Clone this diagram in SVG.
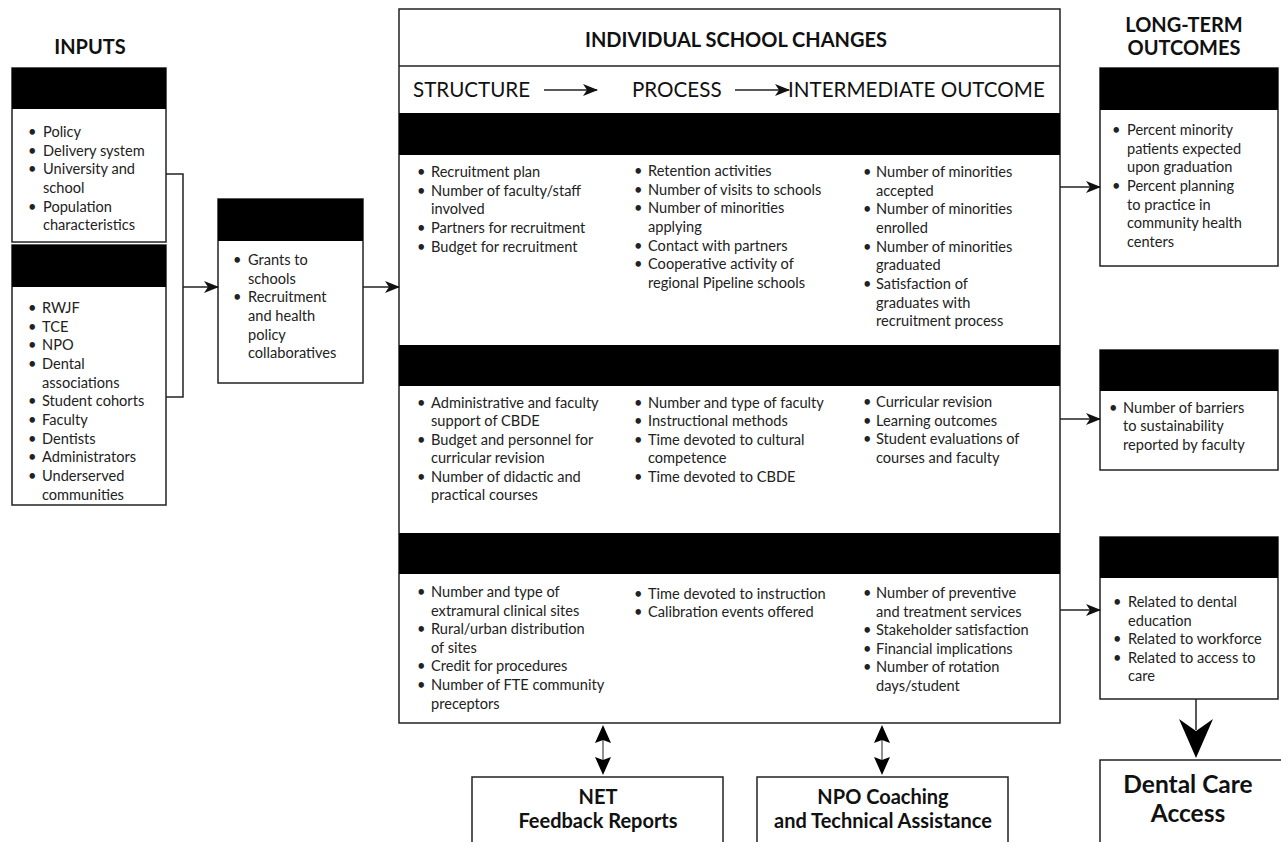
<svg xmlns="http://www.w3.org/2000/svg" width="1281" height="842" viewBox="0 0 1281 842">
<defs>
<style>
.box{fill:#fff;stroke:#222;stroke-width:1.5}
.bar{fill:#000}
.t{font-family:Lato,"Open Sans","Liberation Sans",sans-serif;font-size:14.6px;fill:#222}
.h{font-family:Lato,"Open Sans","Liberation Sans",sans-serif;font-size:20px;font-weight:bold;fill:#111}
.row{font-family:Lato,"Open Sans","Liberation Sans",sans-serif;font-size:20.6px;fill:#111}
.b{font-family:Lato,"Open Sans","Liberation Sans",sans-serif;font-size:20px;font-weight:bold;fill:#111;text-anchor:middle}
.big{font-family:Lato,"Open Sans","Liberation Sans",sans-serif;font-size:24.5px;font-weight:bold;fill:#111;text-anchor:middle}
.ln{fill:none;stroke:#222;stroke-width:1.5}
</style>
<marker id="ah" markerWidth="15" markerHeight="12" refX="14" refY="6" orient="auto" markerUnits="userSpaceOnUse">
<path d="M0,0 L15,6 L0,12 L4,6 Z" fill="#111"/>
</marker>
</defs>
<rect width="1281" height="842" fill="#fff"/>

<!-- Headings -->
<text class="h" x="90" y="54" text-anchor="middle">INPUTS</text>
<text class="h" x="1184" y="32" text-anchor="middle">LONG-TERM</text>
<text class="h" x="1184" y="55" text-anchor="middle">OUTCOMES</text>

<!-- Input box 1 -->
<g id="input-context">
<rect class="box" x="12" y="68" width="154" height="174"/>
<rect class="bar" x="12" y="68" width="154" height="41"/>
<g class="t">
<text x="28" y="137">•</text><text x="43" y="137">Policy</text>
<text x="28" y="156">•</text><text x="43" y="156">Delivery system</text>
<text x="28" y="174">•</text><text x="43" y="174">University and</text>
<text x="43" y="193">school</text>
<text x="28" y="212">•</text><text x="43" y="212">Population</text>
<text x="43" y="230">characteristics</text>
</g>
</g>

<!-- Input box 2 -->
<g id="input-stakeholders">
<rect class="box" x="12" y="245" width="154" height="260"/>
<rect class="bar" x="12" y="245" width="154" height="42"/>
<g class="t">
<text x="28" y="313">•</text><text x="42" y="313">RWJF</text>
<text x="28" y="332">•</text><text x="42" y="332">TCE</text>
<text x="28" y="350">•</text><text x="42" y="350">NPO</text>
<text x="28" y="369">•</text><text x="42" y="369">Dental</text>
<text x="42" y="388">associations</text>
<text x="28" y="406">•</text><text x="42" y="406">Student cohorts</text>
<text x="28" y="425">•</text><text x="42" y="425">Faculty</text>
<text x="28" y="444">•</text><text x="42" y="444">Dentists</text>
<text x="28" y="462">•</text><text x="42" y="462">Administrators</text>
<text x="28" y="481">•</text><text x="42" y="481">Underserved</text>
<text x="42" y="500">communities</text>
</g>
</g>

<!-- Program box -->
<g id="program">
<rect class="box" x="218" y="199" width="145" height="184"/>
<rect class="bar" x="218" y="199" width="145" height="42"/>
<g class="t">
<text x="233" y="265">•</text><text x="248" y="265">Grants to</text>
<text x="248" y="284">schools</text>
<text x="233" y="302">•</text><text x="248" y="302">Recruitment</text>
<text x="248" y="321">and health</text>
<text x="248" y="340">policy</text>
<text x="248" y="358">collaboratives</text>
</g>
</g>

<!-- Main box -->
<g id="individual-school-changes">
<rect class="box" x="399" y="9" width="661" height="714"/>
<line class="ln" x1="399" y1="66" x2="1060" y2="66"/>
<text class="h" x="736" y="47" text-anchor="middle">INDIVIDUAL SCHOOL CHANGES</text>
<text class="row" x="413" y="97">STRUCTURE</text>
<text class="row" x="632" y="97">PROCESS</text>
<text class="row" x="788" y="97">INTERMEDIATE OUTCOME</text>
<line class="ln" x1="544" y1="90" x2="597" y2="90" marker-end="url(#ah)"/>
<line class="ln" x1="735" y1="90" x2="789" y2="90" marker-end="url(#ah)"/>
<rect class="bar" x="399" y="113" width="661" height="42"/>
<rect class="bar" x="399" y="345" width="661" height="41"/>
<rect class="bar" x="399" y="533" width="661" height="41"/>
<g class="t">
<!-- row 1 -->
<text x="417" y="177">•</text><text x="431" y="177">Recruitment plan</text>
<text x="417" y="196">•</text><text x="431" y="196">Number of faculty/staff</text>
<text x="431" y="214">involved</text>
<text x="417" y="233">•</text><text x="431" y="233">Partners for recruitment</text>
<text x="417" y="252">•</text><text x="431" y="252">Budget for recruitment</text>

<text x="634" y="176">•</text><text x="648" y="176">Retention activities</text>
<text x="634" y="195">•</text><text x="648" y="195">Number of visits to schools</text>
<text x="634" y="213">•</text><text x="648" y="213">Number of minorities</text>
<text x="648" y="232">applying</text>
<text x="634" y="251">•</text><text x="648" y="251">Contact with partners</text>
<text x="634" y="269">•</text><text x="648" y="269">Cooperative activity of</text>
<text x="648" y="288">regional Pipeline schools</text>

<text x="863" y="177">•</text><text x="876" y="177">Number of minorities</text>
<text x="876" y="196">accepted</text>
<text x="863" y="214">•</text><text x="876" y="214">Number of minorities</text>
<text x="876" y="233">enrolled</text>
<text x="863" y="252">•</text><text x="876" y="252">Number of minorities</text>
<text x="876" y="270">graduated</text>
<text x="863" y="289">•</text><text x="876" y="289">Satisfaction of</text>
<text x="876" y="308">graduates with</text>
<text x="876" y="326">recruitment process</text>
<!-- row 2 -->
<text x="417" y="408">•</text><text x="431" y="408">Administrative and faculty</text>
<text x="431" y="426">support of CBDE</text>
<text x="417" y="445">•</text><text x="431" y="445">Budget and personnel for</text>
<text x="431" y="463">curricular revision</text>
<text x="417" y="482">•</text><text x="431" y="482">Number of didactic and</text>
<text x="431" y="500">practical courses</text>

<text x="634" y="408">•</text><text x="648" y="408">Number and type of faculty</text>
<text x="634" y="426">•</text><text x="648" y="426">Instructional methods</text>
<text x="634" y="445">•</text><text x="648" y="445">Time devoted to cultural</text>
<text x="648" y="463">competence</text>
<text x="634" y="482">•</text><text x="648" y="482">Time devoted to CBDE</text>

<text x="863" y="407">•</text><text x="876" y="407">Curricular revision</text>
<text x="863" y="426">•</text><text x="876" y="426">Learning outcomes</text>
<text x="863" y="444">•</text><text x="876" y="444">Student evaluations of</text>
<text x="876" y="463">courses and faculty</text>
<!-- row 3 -->
<text x="417" y="597">•</text><text x="431" y="597">Number and type of</text>
<text x="431" y="616">extramural clinical sites</text>
<text x="417" y="634">•</text><text x="431" y="634">Rural/urban distribution</text>
<text x="431" y="653">of sites</text>
<text x="417" y="671">•</text><text x="431" y="671">Credit for procedures</text>
<text x="417" y="690">•</text><text x="431" y="690">Number of FTE community</text>
<text x="431" y="709">preceptors</text>

<text x="634" y="599">•</text><text x="648" y="599">Time devoted to instruction</text>
<text x="634" y="617">•</text><text x="648" y="617">Calibration events offered</text>

<text x="863" y="598">•</text><text x="876" y="598">Number of preventive</text>
<text x="876" y="617">and treatment services</text>
<text x="863" y="635">•</text><text x="876" y="635">Stakeholder satisfaction</text>
<text x="863" y="654">•</text><text x="876" y="654">Financial implications</text>
<text x="863" y="672">•</text><text x="876" y="672">Number of rotation</text>
<text x="876" y="691">days/student</text>
</g>
</g>

<!-- Long-term outcome boxes -->
<g id="outcome-1">
<rect class="box" x="1100" y="68" width="178" height="198"/>
<rect class="bar" x="1100" y="68" width="178" height="42"/>
<g class="t">
<text x="1112" y="135">•</text><text x="1127" y="135">Percent minority</text>
<text x="1127" y="154">patients expected</text>
<text x="1127" y="172">upon graduation</text>
<text x="1112" y="191">•</text><text x="1127" y="191">Percent planning</text>
<text x="1127" y="210">to practice in</text>
<text x="1127" y="228">community health</text>
<text x="1127" y="247">centers</text>
</g>
</g>
<g id="outcome-2">
<rect class="box" x="1100" y="350" width="178" height="120"/>
<rect class="bar" x="1100" y="350" width="178" height="41"/>
<g class="t">
<text x="1109" y="413">•</text><text x="1123" y="413">Number of barriers</text>
<text x="1123" y="431">to sustainability</text>
<text x="1123" y="450">reported by faculty</text>
</g>
</g>
<g id="outcome-3">
<rect class="box" x="1100" y="537" width="178" height="162"/>
<rect class="bar" x="1100" y="537" width="178" height="41"/>
<g class="t">
<text x="1113" y="607">•</text><text x="1128" y="607">Related to dental</text>
<text x="1128" y="626">education</text>
<text x="1113" y="644">•</text><text x="1128" y="644">Related to workforce</text>
<text x="1113" y="663">•</text><text x="1128" y="663">Related to access to</text>
<text x="1128" y="681">care</text>
</g>
</g>

<g id="dental-care-access">
<rect class="box" x="1100" y="760" width="185" height="90"/>
<text class="big" x="1188" y="793">Dental Care</text>
<text class="big" x="1188" y="822">Access</text>
</g>

<g id="net-feedback">
<rect class="box" x="472" y="777" width="251" height="80"/>
<text class="b" x="598" y="804">NET</text>
<text class="b" x="598" y="828">Feedback Reports</text>
</g>
<g id="npo-coaching">
<rect class="box" x="757" y="777" width="251" height="80"/>
<text class="b" x="883" y="804">NPO Coaching</text>
<text class="b" x="883" y="828">and Technical Assistance</text>
</g>

<!-- Connectors -->
<g id="connectors">
<polyline class="ln" points="166,174 183,174 183,397 166,397"/>
<line class="ln" x1="183" y1="287" x2="218" y2="287" marker-end="url(#ah)"/>
<line class="ln" x1="363" y1="287" x2="399" y2="287" marker-end="url(#ah)"/>
<line class="ln" x1="1060" y1="187" x2="1100" y2="187" marker-end="url(#ah)"/>
<line class="ln" x1="1060" y1="419" x2="1100" y2="419" marker-end="url(#ah)"/>
<line class="ln" x1="1060" y1="610" x2="1100" y2="610" marker-end="url(#ah)"/>
<line class="ln" x1="1196" y1="699" x2="1196" y2="730"/>
<polygon points="1179,719 1196,731 1213,719 1196,758" fill="#000"/>
<line class="ln" x1="603" y1="740" x2="603" y2="760" style="stroke-width:1"/>
<polygon points="603,725 611,743 603,740 595,743" fill="#000"/>
<polygon points="603,775 611,757 603,760 595,757" fill="#000"/>
<line class="ln" x1="882" y1="740" x2="882" y2="760" style="stroke-width:1"/>
<polygon points="882,725 890,743 882,740 874,743" fill="#000"/>
<polygon points="882,775 890,757 882,760 874,757" fill="#000"/>
</g>
</svg>
